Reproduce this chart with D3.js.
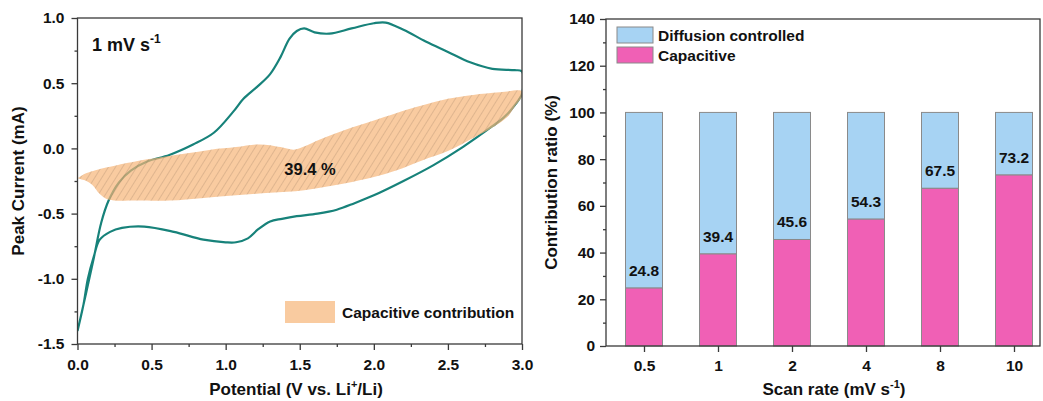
<!DOCTYPE html>
<html><head><meta charset="utf-8">
<script src="https://cdn.jsdelivr.net/npm/d3@7"></script>
<style>
body{margin:0;background:#fff;}
text{font-family:"Liberation Sans",Arial,sans-serif;font-weight:bold;fill:#111;}
</style></head>
<body><svg id="chart" width="1043" height="401"></svg>
<script>
// ---------- data ----------
// CV, anodic branch (0 V -> 3 V)
const anodicV = [0.0,0.03,0.06,0.11,0.16,0.21,0.28,0.36,0.47,0.62,0.78,0.92,1.05,1.12,1.21,1.30,1.37,1.43,1.48,1.53,1.60,1.70,1.85,2.00,2.08,2.20,2.35,2.50,2.65,2.80,2.95,3.0];
const anodicI = [-1.40,-1.25,-1.10,-0.84,-0.57,-0.40,-0.26,-0.17,-0.10,-0.05,0.03,0.12,0.28,0.38,0.47,0.57,0.70,0.84,0.90,0.92,0.89,0.88,0.92,0.96,0.965,0.91,0.82,0.74,0.66,0.61,0.60,0.59];
// CV, cathodic branch (3 V -> 0 V)
const cathodicV = [3.0,2.95,2.88,2.80,2.60,2.40,2.20,2.00,1.87,1.75,1.62,1.48,1.38,1.30,1.22,1.15,1.07,1.00,0.85,0.65,0.45,0.30,0.22,0.15,0.11,0.07,0.04,0.0];
const cathodicI = [0.42,0.33,0.24,0.17,0.01,-0.13,-0.25,-0.36,-0.42,-0.47,-0.50,-0.52,-0.54,-0.56,-0.62,-0.69,-0.72,-0.72,-0.70,-0.64,-0.60,-0.61,-0.64,-0.70,-0.83,-1.00,-1.20,-1.40];
// capacitive contribution region
const capUpperV = [0.0,0.05,0.10,0.20,0.39,0.55,0.73,0.90,1.07,1.21,1.30,1.37,1.46,1.52,1.64,1.80,1.99,2.15,2.33,2.50,2.67,2.85,3.0];
const capUpperI = [-0.23,-0.195,-0.175,-0.145,-0.10,-0.07,-0.04,-0.01,0.01,0.03,0.025,0.01,-0.01,0.01,0.07,0.14,0.21,0.27,0.33,0.38,0.41,0.43,0.44];
const capLowerV = [3.0,2.95,2.90,2.80,2.67,2.50,2.33,2.15,2.0,1.80,1.53,1.30,1.07,0.85,0.62,0.40,0.25,0.20,0.15,0.10,0.05,0.0];
const capLowerI = [0.40,0.32,0.24,0.16,0.08,-0.02,-0.09,-0.17,-0.22,-0.27,-0.32,-0.34,-0.36,-0.38,-0.40,-0.40,-0.40,-0.39,-0.35,-0.28,-0.245,-0.23];
const cvXTicks = [0.0,0.5,1.0,1.5,2.0,2.5,3.0];
const cvYTicks = [-1.5,-1.0,-0.5,0.0,0.5,1.0];

// contribution bars
const scanRates = ["0.5","1","2","4","8","10"];
const capacitive = [24.8,39.4,45.6,54.3,67.5,73.2];
const diffusion = capacitive.map(v => 100 - v);
const ratioTicks = [0,20,40,60,80,100,120,140];

// ---------- drawing ----------
const svg = d3.select("#chart");
const axisColor = "#3a3a3a";
const teal = "#17827a";
const fmt1 = v => d3.format(".1f")(v).replace("\u2212","-");

// ===== left panel =====
const L = {x0:77.5, x1:522, y0:18, y1:344};
const x1 = d3.scaleLinear().domain([0,3]).range([L.x0, L.x1]);
const y1 = d3.scaleLinear().domain([-1.5,1]).range([L.y1, L.y0]);

const defs = svg.append("defs");
const pat = defs.append("pattern").attr("id","hatch").attr("patternUnits","userSpaceOnUse")
  .attr("width",6).attr("height",6).attr("patternTransform","rotate(32)");
pat.append("line").attr("x1",0).attr("y1",0).attr("x2",0).attr("y2",6)
  .attr("stroke","#8f7057").attr("stroke-width",0.7).attr("stroke-opacity",0.7);
defs.append("clipPath").attr("id","clipL").append("rect")
  .attr("x",L.x0).attr("y",L.y0).attr("width",L.x1-L.x0).attr("height",L.y1-L.y0);

const gL = svg.append("g");
const cvPts = anodicV.map((v,i)=>[v,anodicI[i]]).concat(cathodicV.map((v,i)=>[v,cathodicI[i]]));
const line = d3.line().x(d=>x1(d[0])).y(d=>y1(d[1])).curve(d3.curveCatmullRom.alpha(0.5));
gL.append("path").datum(cvPts).attr("d",line).attr("fill","none")
  .attr("stroke",teal).attr("stroke-width",2.2).attr("clip-path","url(#clipL)");

const capPts = capUpperV.map((v,i)=>[v,capUpperI[i]]).concat(capLowerV.map((v,i)=>[v,capLowerI[i]]));
const area = d3.line().x(d=>x1(d[0])).y(d=>y1(d[1])).curve(d3.curveCatmullRomClosed.alpha(0.5));
gL.append("path").datum(capPts).attr("d",area).attr("fill","#f6b577").attr("fill-opacity",0.7)
  .attr("clip-path","url(#clipL)");
gL.append("path").datum(capPts).attr("d",area).attr("fill","url(#hatch)")
  .attr("clip-path","url(#clipL)");

// frame
gL.append("rect").attr("x",L.x0).attr("y",L.y0).attr("width",L.x1-L.x0).attr("height",L.y1-L.y0)
  .attr("fill","none").attr("stroke",axisColor).attr("stroke-width",1.3);

function styleAxis(g){
  g.select(".domain").remove();
  g.selectAll(".tick line").attr("stroke",axisColor).attr("stroke-width",1.3);
  g.selectAll(".tick text").attr("fill","#111").style("font-size","15.5px").style("font-weight","bold")
   .style("font-family","'Liberation Sans',Arial,sans-serif");
}
// minor ticks
const minorX1 = d3.range(0.25,3,0.5);
const minorY1 = d3.range(-1.25,1,0.5);
gL.append("g").attr("transform",`translate(0,${L.y1})`)
  .call(d3.axisBottom(x1).tickValues(minorX1).tickSize(3).tickFormat(""))
  .call(styleAxis);
gL.append("g").attr("transform",`translate(${L.x0},0)`)
  .call(d3.axisLeft(y1).tickValues(minorY1).tickSize(3).tickFormat(""))
  .call(styleAxis);
gL.append("g").attr("transform",`translate(0,${L.y1})`)
  .call(d3.axisBottom(x1).tickValues(cvXTicks).tickSize(6).tickPadding(9).tickFormat(fmt1))
  .call(styleAxis);
gL.append("g").attr("transform",`translate(${L.x0},0)`)
  .call(d3.axisLeft(y1).tickValues(cvYTicks).tickSize(6).tickPadding(7).tickFormat(fmt1))
  .call(styleAxis);

// labels
const tx = gL.append("text").attr("x",296).attr("y",395).attr("text-anchor","middle").style("font-size","17px");
tx.append("tspan").text("Potential (V vs. Li");
tx.append("tspan").text("+").attr("dy",-7).style("font-size","11px");
tx.append("tspan").text("/Li)").attr("dy",7);
gL.append("text").attr("transform",`translate(24,${(L.y0+L.y1)/2}) rotate(-90)`)
  .attr("text-anchor","middle").style("font-size","17px").text("Peak Current (mA)");
const rl = gL.append("text").attr("x",92).attr("y",51).style("font-size","18px");
rl.append("tspan").text("1 mV s");
rl.append("tspan").text("-1").attr("dy",-8).style("font-size","12px");
gL.append("text").attr("x",310).attr("y",175).attr("text-anchor","middle").style("font-size","16.5px").text("39.4 %");
// legend
gL.append("rect").attr("x",285).attr("y",301).attr("width",50).attr("height",22).attr("fill","#f6b577").attr("fill-opacity",0.7);
gL.append("text").attr("x",342).attr("y",318).style("font-size","15.5px").text("Capacitive contribution");

// ===== right panel =====
const R = {x0:606, x1:1040, y0:19, y1:346};
const x2 = d3.scalePoint().domain(scanRates).range([644,1014]);
const y2 = d3.scaleLinear().domain([0,140]).range([R.y1, R.y0]);
const bw = 37;
const blue = "#a7d3f3", pink = "#f060b5", barStroke = "#8a8a8a";
const gR = svg.append("g");
gR.selectAll("rect.dif").data(scanRates).join("rect").attr("class","dif")
  .attr("x",d=>x2(d)-bw/2).attr("width",bw)
  .attr("y",(d,i)=>y2(capacitive[i]+diffusion[i])).attr("height",(d,i)=>y2(capacitive[i])-y2(capacitive[i]+diffusion[i]))
  .attr("fill",blue).attr("stroke",barStroke).attr("stroke-width",1);
gR.selectAll("rect.cap").data(scanRates).join("rect").attr("class","cap")
  .attr("x",d=>x2(d)-bw/2).attr("width",bw)
  .attr("y",(d,i)=>y2(capacitive[i])).attr("height",(d,i)=>y2(0)-y2(capacitive[i]))
  .attr("fill",pink).attr("stroke",barStroke).attr("stroke-width",1);
gR.selectAll("text.val").data(scanRates).join("text").attr("class","val")
  .attr("x",d=>x2(d)).attr("y",(d,i)=>y2(capacitive[i])-12).attr("text-anchor","middle")
  .style("font-size","15.5px").text((d,i)=>capacitive[i].toFixed(1));

gR.append("rect").attr("x",R.x0).attr("y",R.y0).attr("width",R.x1-R.x0).attr("height",R.y1-R.y0)
  .attr("fill","none").attr("stroke",axisColor).attr("stroke-width",1.3);
gR.append("g").attr("transform",`translate(${R.x0},0)`)
  .call(d3.axisLeft(y2).tickValues(d3.range(10,140,20)).tickSize(3).tickFormat(""))
  .call(styleAxis);
gR.append("g").attr("transform",`translate(${R.x0},0)`)
  .call(d3.axisLeft(y2).tickValues(ratioTicks).tickSize(6).tickPadding(5))
  .call(styleAxis);
gR.append("g").attr("transform",`translate(0,${R.y1})`)
  .call(d3.axisBottom(x2).tickSize(6).tickPadding(8))
  .call(styleAxis);

const tx2 = gR.append("text").attr("x",834).attr("y",395).attr("text-anchor","middle").style("font-size","17px");
tx2.append("tspan").text("Scan rate (mV s");
tx2.append("tspan").text("-1").attr("dy",-7).style("font-size","11px");
tx2.append("tspan").text(")").attr("dy",7);
gR.append("text").attr("transform",`translate(557,${(R.y0+R.y1)/2}) rotate(-90)`)
  .attr("text-anchor","middle").style("font-size","17px").text("Contribution ratio (%)");
// legend
gR.append("rect").attr("x",617).attr("y",27).attr("width",36).attr("height",16).attr("fill",blue).attr("stroke",barStroke);
gR.append("rect").attr("x",617).attr("y",47).attr("width",36).attr("height",16).attr("fill",pink).attr("stroke",barStroke);
gR.append("text").attr("x",658).attr("y",41).style("font-size","15.5px").text("Diffusion controlled");
gR.append("text").attr("x",658).attr("y",61).style("font-size","15.5px").text("Capacitive");
</script></body></html>
